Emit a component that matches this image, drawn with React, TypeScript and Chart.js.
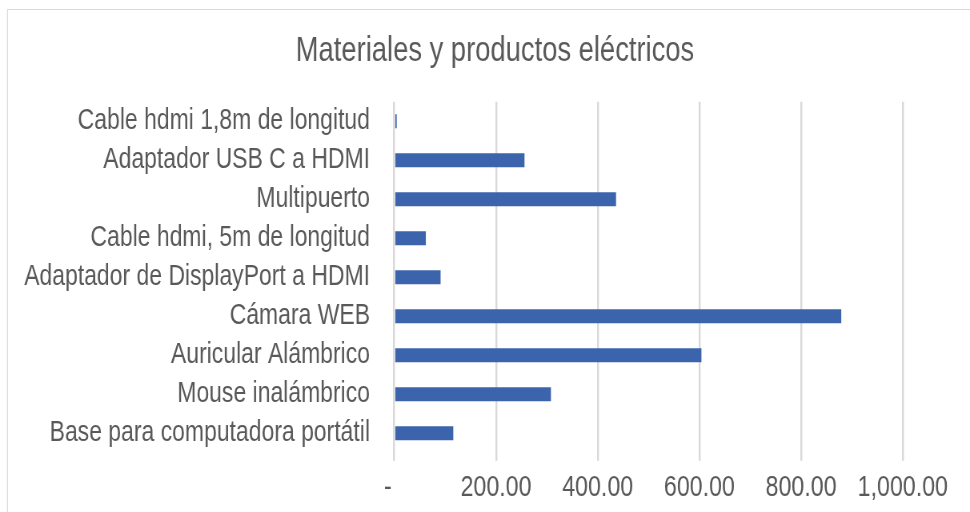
import React, { useEffect, useRef } from "react";
import { Chart, registerables } from "chart.js";

Chart.register(...registerables);

const title = "Materiales y productos eléctricos";
const categories = [
  "Cable hdmi 1,8m de longitud",
  "Adaptador USB C a HDMI",
  "Multipuerto",
  "Cable hdmi, 5m de longitud",
  "Adaptador de DisplayPort a HDMI",
  "Cámara WEB",
  "Auricular Alámbrico",
  "Mouse inalámbrico",
  "Base para computadora portátil",
];
const values = [4.7, 256, 436, 62, 91, 879, 604, 308, 116];
const xTickValues = [0, 200, 400, 600, 800, 1000];
const xTickLabels = ["-  ", "200.00", "400.00", "600.00", "800.00", "1,000.00"];

const W = 1212; // internal canvas width (displayed squeezed to 970)
const H = 512;
const SX = W / 970;
const TEXT = "#595959";
const GRID = "#d9d9d9";
const BAR = "#3C64AD";
const FONT = "'Liberation Sans', Arial, sans-serif";

const boxPlugin = {
  id: "chartBox",
  beforeDraw(chart: any) {
    const ctx = chart.ctx;
    ctx.save();
    ctx.fillStyle = "#ffffff";
    ctx.fillRect(0, 0, chart.width, chart.height);
    ctx.strokeStyle = GRID;
    ctx.lineWidth = 1.2;
    ctx.beginPath();
    ctx.moveTo(7.5 * SX, chart.height + 5);
    ctx.lineTo(7.5 * SX, 9.5);
    ctx.lineTo(chart.width + 5, 9.5);
    ctx.stroke();
    ctx.restore();
  },
  afterDraw(chart: any) {
    const ctx = chart.ctx;
    ctx.save();
    ctx.fillStyle = TEXT;
    ctx.font = `34.2px ${FONT}`;
    ctx.textAlign = "center";
    ctx.textBaseline = "middle";
    ctx.fillText(title, 495 * SX, 51.5);
    ctx.restore();
  },
};

export default function App() {
  const ref = useRef<HTMLCanvasElement | null>(null);
  useEffect(() => {
    if (!ref.current) return;
    const chartLeft = 394.3 * SX;
    const chartRight = 902.8 * SX;
    const chart = new Chart(ref.current, {
      type: "bar",
      data: {
        labels: categories,
        datasets: [
          {
            data: values,
            backgroundColor: BAR,
            borderWidth: 0,
            barPercentage: 0.36,
            categoryPercentage: 1,
          },
        ],
      },
      plugins: [boxPlugin],
      options: {
        indexAxis: "y",
        responsive: false,
        animation: false,
        devicePixelRatio: 1,
        layout: { padding: { left: 0, right: W - chartRight, top: 101.8, bottom: 0 } },
        plugins: {
          legend: { display: false },
          tooltip: { enabled: false },
          title: { display: false },
        },
        scales: {
          x: {
            type: "linear",
            min: 0,
            max: 1000,
            afterBuildTicks: (scale: any) => {
              scale.ticks = xTickValues.map((v) => ({ value: v }));
            },
            afterFit: (scale: any) => {
              scale.height = H - 452.8;
            },
            grid: {
              color: GRID,
              lineWidth: 2.4,
              drawTicks: true,
              tickLength: 8,
            },
            border: { display: false },
            ticks: {
              color: TEXT,
              padding: 10,
              font: { family: FONT, size: 29 },
              maxRotation: 0,
              autoSkip: false,
              callback: (_v: any, i: number) => xTickLabels[i],
            },
          },
          y: {
            afterFit: (scale: any) => {
              scale.width = chartLeft;
            },
            grid: { display: false, drawTicks: false, tickLength: 0 },
            border: { display: false },
            ticks: {
              color: TEXT,
              padding: 30.4,
              autoSkip: false,
              font: { family: FONT, size: 28.7 },
            },
          },
        },
      },
    });
    return () => chart.destroy();
  }, []);
  return (
    <div
      style={{
        position: "fixed",
        left: 0,
        top: 0,
        width: 970,
        height: 512,
        overflow: "hidden",
        background: "#fff",
      }}
    >
      <canvas
        ref={ref}
        width={W}
        height={H}
        style={{ width: "970px", height: "512px", display: "block" }}
      />
    </div>
  );
}
